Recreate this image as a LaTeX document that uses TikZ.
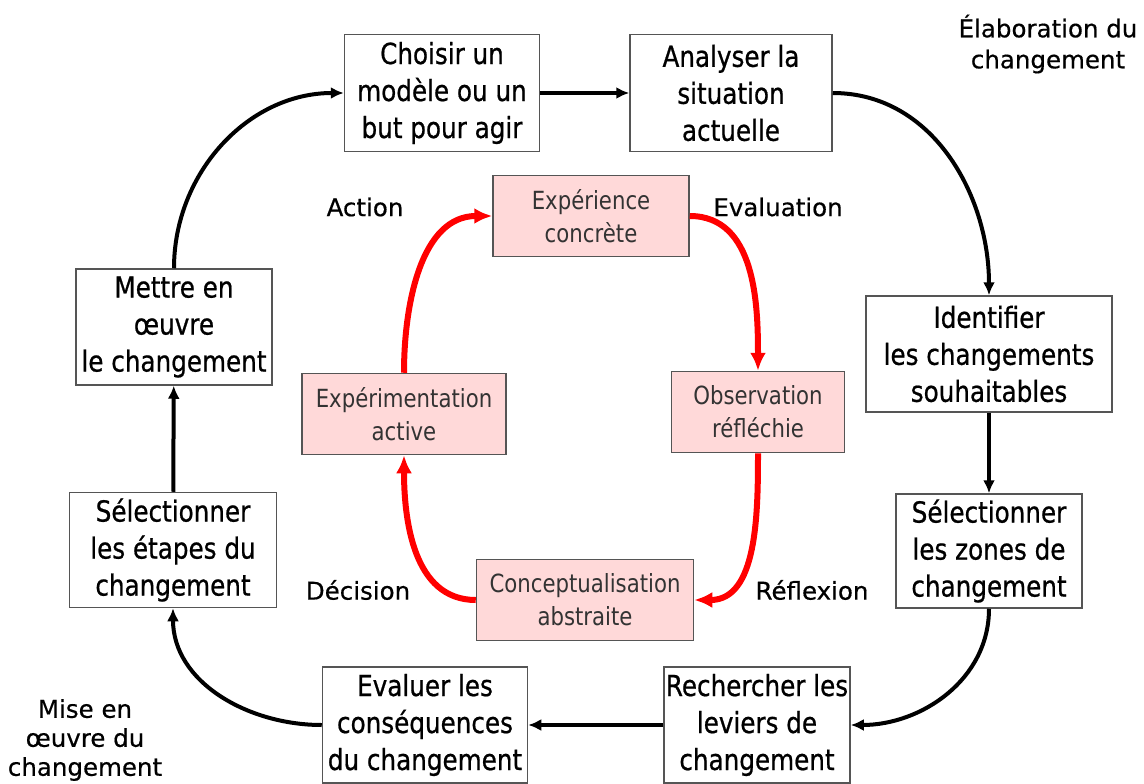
\documentclass[tikz,border=0pt]{standalone}
\usepackage{fontspec}
\setmainfont[FakeBold=0.5]{DejaVu Sans}
\newfontfamily\boxfont[FakeStretch=0.85, FakeBold=0.7]{DejaVu Sans}
\newfontfamily\kolbfont[FakeStretch=0.85]{DejaVu Sans}
\usepackage{tikz}
\usetikzlibrary{arrows.meta}
\definecolor{rose}{RGB}{255,217,217}
\definecolor{bord}{RGB}{85,85,85}

\begin{document}
\begin{tikzpicture}[x=1pt, y=1pt,
    etape/.style={draw=bord, line width=1.5pt, align=center, inner sep=0pt, font=\boxfont\fontsize{29}{37}\selectfont},
    kolb/.style={draw=bord, fill=rose, line width=1.5pt, align=center, inner sep=0pt, text=black!80, font=\kolbfont\fontsize{25}{33}\selectfont},
    lbl/.style={align=center, font=\fontsize{24.5}{31}\selectfont},
    fleche/.style={line width=4pt, -{Latex[length=13pt,width=12pt]}},
    rouge/.style={red, line width=6pt, -{Latex[length=18pt,width=16pt]}}]
    \useasboundingbox (0,0) rectangle (1144,-784); % 画像の大きさ

    % 外側の箱
    \node[etape, minimum width=195, minimum height=117] (choix) at (442,-93) {Choisir un\\modèle ou un\\but pour agir};
    \node[etape, minimum width=202, minimum height=117] (analyse) at (731,-93) {Analyser la\\situation\\actuelle};
    \node[etape, minimum width=246, minimum height=116] (identif) at (989,-354) {Identifier\\les changements\\souhaitables};
    \node[etape, minimum width=186, minimum height=114] (zones) at (989,-551) {Sélectionner\\les zones de\\changement};
    \node[etape, minimum width=186, minimum height=116] (leviers) at (757,-725) {Rechercher les\\leviers de\\changement};
    \node[etape, minimum width=205, minimum height=116] (evaluer) at (425,-725) {Evaluer les\\conséquences\\du changement};
    \node[etape, minimum width=207, minimum height=115] (etapes) at (173,-550) {Sélectionner\\les étapes du\\changement};
    \node[etape, minimum width=196, minimum height=116] (mettre) at (174,-327) {Mettre en\\œuvre\\le changement};

    % 内側の箱（コルブ）
    \node[kolb, minimum width=196, minimum height=81] (experience) at (591,-216) {Expérience\\concrète};
    \node[kolb, minimum width=173, minimum height=81] (observation) at (758,-412) {Observation\\réfléchie};
    \node[kolb, minimum width=217, minimum height=81] (concept) at (585,-600) {Conceptualisation\\abstraite};
    \node[kolb, minimum width=204, minimum height=81] (experim) at (404,-414) {Expérimentation\\active};

    % ラベル
    \node[lbl] (action) at (365,-207) {Action};
    \node[lbl] (evaluation) at (778,-207) {Evaluation};
    \node[lbl] (decision) at (358,-590) {Décision};
    \node[lbl] (reflexion) at (812,-590) {Réflexion};
    \node[lbl] (elaboration) at (1048,-44) {Élaboration du\\changement};
    \node[lbl, font=\fontsize{24.5}{29}\selectfont] (mise) at (85,-740) {Mise en\\œuvre du\\changement};

    % 黒い矢印
    \draw[fleche] (mettre.north) to[out=90, in=180] (choix.west);
    \draw[fleche] (choix) -- (analyse);
    \draw[fleche] (analyse.east) to[out=0, in=90] (identif.north);
    \draw[fleche] (identif) -- (zones);
    \draw[fleche] (zones.south) to[out=-90, in=0] (leviers.east);
    \draw[fleche] (leviers) -- (evaluer);
    \draw[fleche] (evaluer.west) to[out=180, in=-90] (etapes.south);
    \draw[fleche] (etapes) -- (mettre);

    % 赤い矢印
    \draw[rouge] (experience.east) to[out=0, in=90] (observation.north);
    \draw[rouge] (observation.south) to[out=-90, in=0] (concept.east);
    \draw[rouge] (concept.west) to[out=180, in=-90] (experim.south);
    \draw[rouge] (experim.north) to[out=90, in=180] (experience.west);
\end{tikzpicture}
\end{document}
